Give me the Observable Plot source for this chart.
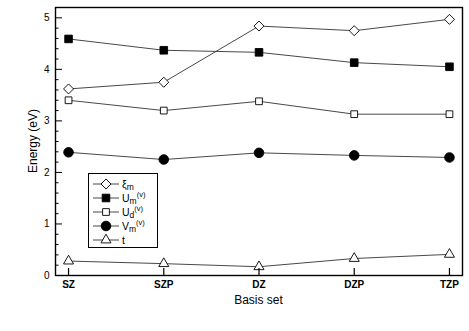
<!DOCTYPE html>
<html><head><meta charset="utf-8">
<script src="https://cdn.jsdelivr.net/npm/d3@7"></script>
<script src="https://cdn.jsdelivr.net/npm/@observablehq/plot@0.6"></script>
<style>
body{margin:0;background:#fff;font-family:"Liberation Sans",Arial,sans-serif;color:#000;}
#wrap{position:relative;width:469px;height:331px;}
#legend{position:absolute;left:88px;top:173px;width:68px;height:73px;border:1px solid #000;background:#fff;font-size:10.5px;}
#legend .row{position:absolute;left:0;height:14px;}
#legend svg{position:absolute;left:3px;top:0;}
#legend span{position:absolute;left:33px;top:0;line-height:14px;white-space:nowrap;color:#000;}
sub{font-size:8.5px;vertical-align:-2px;line-height:0}
sup{font-size:7.5px;vertical-align:5px;line-height:0}
</style>
</head><body>
<div id="wrap"></div>
<script>
const categories = ["SZ","SZP","DZ","DZP","TZP"];
const xi_m = [3.62, 3.75, 4.84, 4.75, 4.97];
const U_m  = [4.59, 4.37, 4.33, 4.13, 4.05];
const U_d  = [3.40, 3.20, 3.38, 3.13, 3.13];
const V_m  = [2.39, 2.25, 2.38, 2.33, 2.29];
const t_v  = [0.28, 0.23, 0.17, 0.33, 0.41];
const yTicks = [0,1,2,3,4,5];

const series = [
  {key:"xi", values: xi_m, symbol:"diamond2", fill:"white", r:4.5},
  {key:"Um", values: U_m, symbol:"square", fill:"black", r:4.3},
  {key:"Ud", values: U_d, symbol:"square2", fill:"white", r:4.3},
  {key:"Vm", values: V_m, symbol:"circle", fill:"black", r:4.8},
  {key:"t",  values: t_v, symbol:"triangle2", fill:"white", r:4.8}
];

const W=469,H=331,mL=55,mR=7,mT=7,mB=56;
const pad=0.137;
const xd=[-pad, categories.length-1+pad];
const yd=[0,5.2];
const kx=(xd[1]-xd[0])/(W-mL-mR);
const ky=(yd[1]-yd[0])/(H-mT-mB);
const minor=d3.range(0,5.2001,0.2).map(v=>+v.toFixed(2));

const marks=[];
for(const s of series){
  const data=s.values.map((v,i)=>({i,v}));
  marks.push(Plot.line(data,{x:"i",y:"v",stroke:"#333",strokeWidth:0.9}));
}
for(const s of series){
  const data=s.values.map((v,i)=>({i,v}));
  marks.push(Plot.dot(data,{x:"i",y:"v",symbol:()=>s.symbol,r:s.r,fill:s.fill,stroke:"black",strokeWidth:0.9}));
}
// inward ticks
marks.push(Plot.ruleY(minor,{y:d=>d,x1:xd[0],x2:d=>xd[0]+(yTicks.includes(d)?7:3.5)*kx,stroke:"black",strokeWidth:1}));
marks.push(Plot.ruleX(categories.map((c,i)=>i),{x:d=>d,y1:0,y2:7*ky,stroke:"black",strokeWidth:1.2}));
marks.push(Plot.frame({stroke:"black",strokeWidth:1.4}));
marks.push(Plot.axisY(yTicks,{tickSize:0,tickPadding:6,tickFormat:d3.format("d"),fontSize:10,label:null}));
marks.push(Plot.axisX(categories.map((c,i)=>i),{tickSize:0,tickPadding:5,tickFormat:i=>categories[i],fontSize:10,fontWeight:"bold",label:null}));

const chart=Plot.plot({
  width:W,height:H,marginLeft:mL,marginRight:mR,marginTop:mT,marginBottom:mB,
  style:{fontFamily:"Liberation Sans, Arial, sans-serif",fontSize:"10px",color:"#000",background:"#fff"},
  x:{type:"linear",domain:xd},
  y:{type:"linear",domain:yd},
  marks
});
const wrap=document.getElementById("wrap");
wrap.appendChild(chart);
const svg=d3.select(chart);
svg.append("text").attr("x",mL+(W-mL-mR)/2).attr("y",304).attr("text-anchor","middle")
  .attr("font-size",12).attr("fill","#000").text("Basis set");
svg.append("text").attr("transform",`translate(37,${mT+(H-mT-mB)/2}) rotate(-90)`).attr("text-anchor","middle")
  .attr("font-size",12).attr("fill","#000").text("Energy (eV)");

// legend
const labels=["ξ<sub>m</sub>","U<sub>m</sub><sup>(v)</sup>","U<sub>d</sub><sup>(v)</sup>","V<sub>m</sub><sup>(v)</sup>","t"];
const leg=document.createElement("div");leg.id="legend";wrap.appendChild(leg);
const symGen={diamond2:d3.symbolDiamond2,square:d3.symbolSquare,square2:d3.symbolSquare2,circle:d3.symbolCircle,triangle2:d3.symbolTriangle2};
series.forEach((s,k)=>{
  const row=document.createElement("div");row.className="row";row.style.top=(3+k*14)+"px";row.style.width="68px";
  const sv=d3.create("svg").attr("width",28).attr("height",14);
  sv.append("line").attr("x1",1).attr("x2",27).attr("y1",7).attr("y2",7).attr("stroke","#333").attr("stroke-width",0.9);
  sv.append("path").attr("transform","translate(14,7)").attr("d",d3.symbol(symGen[s.symbol],s.r*s.r*Math.PI)())
    .attr("fill",s.fill).attr("stroke","black").attr("stroke-width",0.9);
  row.appendChild(sv.node());
  const sp=document.createElement("span");sp.innerHTML=labels[k];row.appendChild(sp);
  leg.appendChild(row);
});
</script>
</body></html>
